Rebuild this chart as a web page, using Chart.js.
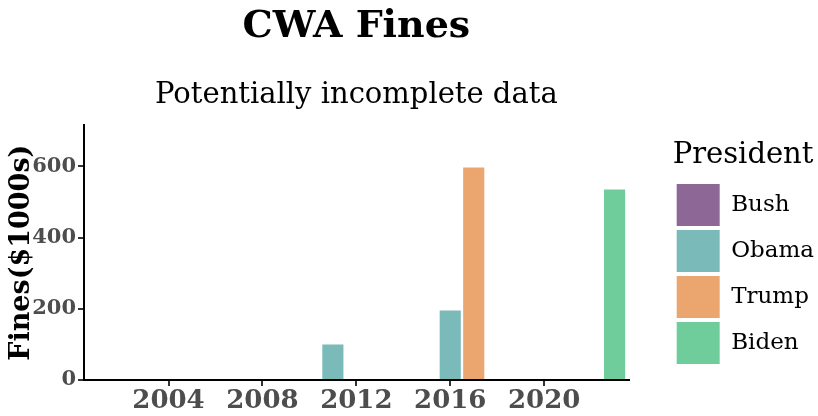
<!DOCTYPE html>
<html>
<head>
<meta charset="utf-8">
<script src="https://cdn.jsdelivr.net/npm/chart.js@4.4.1/dist/chart.umd.min.js"></script>
<style>
  html, body { margin: 0; padding: 0; background: #fff; }
  #wrap { width: 818px; height: 416px; }
</style>
</head>
<body>
<div id="wrap"><canvas id="Chart"></canvas></div>
<script>
// data
const presidents = ["Bush", "Obama", "Trump", "Biden"];
const bushYears = [2004, 2008];
const bushFines = [0, 0];
const obamaYears = [2011, 2016];
const obamaFines = [100, 195];
const trumpYears = [2017];
const trumpFines = [597];
const bidenYears = [2023];
const bidenFines = [535];
const xTicks = [2004, 2008, 2012, 2016, 2020];
const yTicks = [0, 200, 400, 600];

const colors = ["#8d6795", "#7abab9", "#eba66f", "#6fcd9b"];
const serif = "'DejaVu Serif', serif";

function points(xs, ys) {
  return xs.map((x, i) => ({ x: x, y: ys[i] }));
}

const series = [
  points(bushYears, bushFines),
  points(obamaYears, obamaFines),
  points(trumpYears, trumpFines),
  points(bidenYears, bidenFines),
];

// leave an empty strip between the plot and the legend, like ggplot does
const legendGap = 38;
const legendShift = 44;
const legendSpacer = {
  id: "legendSpacer",
  afterInit(chart) {
    const lg = chart.legend;
    const fit = lg.fit;
    lg.fit = function () { fit.call(this); this.width += legendGap; };
    const draw = lg.draw;
    lg.draw = function () {
      this.left += legendShift;
      draw.call(this);
      this.left -= legendShift;
    };
  },
};

const ctx = document.getElementById("Chart").getContext("2d");
const chart = new Chart(ctx, {
  type: "bar",
  data: {
    datasets: presidents.map((name, i) => ({
      label: name,
      data: series[i],
      backgroundColor: colors[i],
      borderWidth: 0,
      grouped: false,
      categoryPercentage: 1,
      barPercentage: 0.9,
    })),
  },
  plugins: [legendSpacer],
  options: {
    responsive: true,
    maintainAspectRatio: false,
    animation: false,
    layout: { padding: { top: 4, right: 0, bottom: 0, left: 0 } },
    plugins: {
      title: {
        display: true,
        text: "CWA Fines",
        fullSize: false,
        color: "#000",
        font: { family: serif, size: 38, weight: "bold" },
        padding: { top: 0, bottom: 28 },
      },
      subtitle: {
        display: true,
        text: "Potentially incomplete data",
        fullSize: false,
        color: "#000",
        font: { family: serif, size: 29 },
        padding: { top: 0, bottom: 13 },
      },
      legend: {
        position: "right",
        fullSize: false,
        align: "center",
        title: {
          display: true,
          text: "President",
          position: "start",
          color: "#000",
          font: { family: serif, size: 29 },
          padding: { top: 4, bottom: 4 },
        },
        labels: {
          boxWidth: 43,
          boxHeight: 42,
          padding: 4,
          color: "#000",
          font: { family: serif, size: 23 },
        },
      },
      tooltip: { enabled: false },
    },
    scales: {
      x: {
        type: "linear",
        offset: false,
        min: 2000.4,
        max: 2023.6,
        afterBuildTicks: (s) => { s.ticks = xTicks.map((v) => ({ value: v })); },
        afterFit: (s) => { s.height = 36; },
        border: { display: true, color: "#000", width: 2 },
        grid: { offset: false, drawOnChartArea: false, drawTicks: true, tickLength: 6, color: "#333", lineWidth: 2 },
        ticks: {
          color: "#4d4d4d",
          padding: 0,
          font: { family: serif, size: 26, weight: "bold" },
          callback: (v) => String(v),
        },
      },
      y: {
        min: 0,
        max: 715,
        afterBuildTicks: (s) => { s.ticks = yTicks.map((v) => ({ value: v })); },
        afterFit: (s) => { s.width = 84; },
        border: { display: true, color: "#000", width: 2 },
        grid: { drawOnChartArea: false, drawTicks: true, tickLength: 6, color: "#333", lineWidth: 2 },
        title: {
          display: true,
          text: "Fines($1000s)",
          color: "#000",
          font: { family: serif, size: 27, weight: "bold" },
          padding: { top: 6, bottom: 0 },
        },
        ticks: {
          color: "#4d4d4d",
          padding: 2,
          font: { family: serif, size: 21, weight: "bold" },
        },
      },
    },
  },
});
</script>
</body>
</html>
